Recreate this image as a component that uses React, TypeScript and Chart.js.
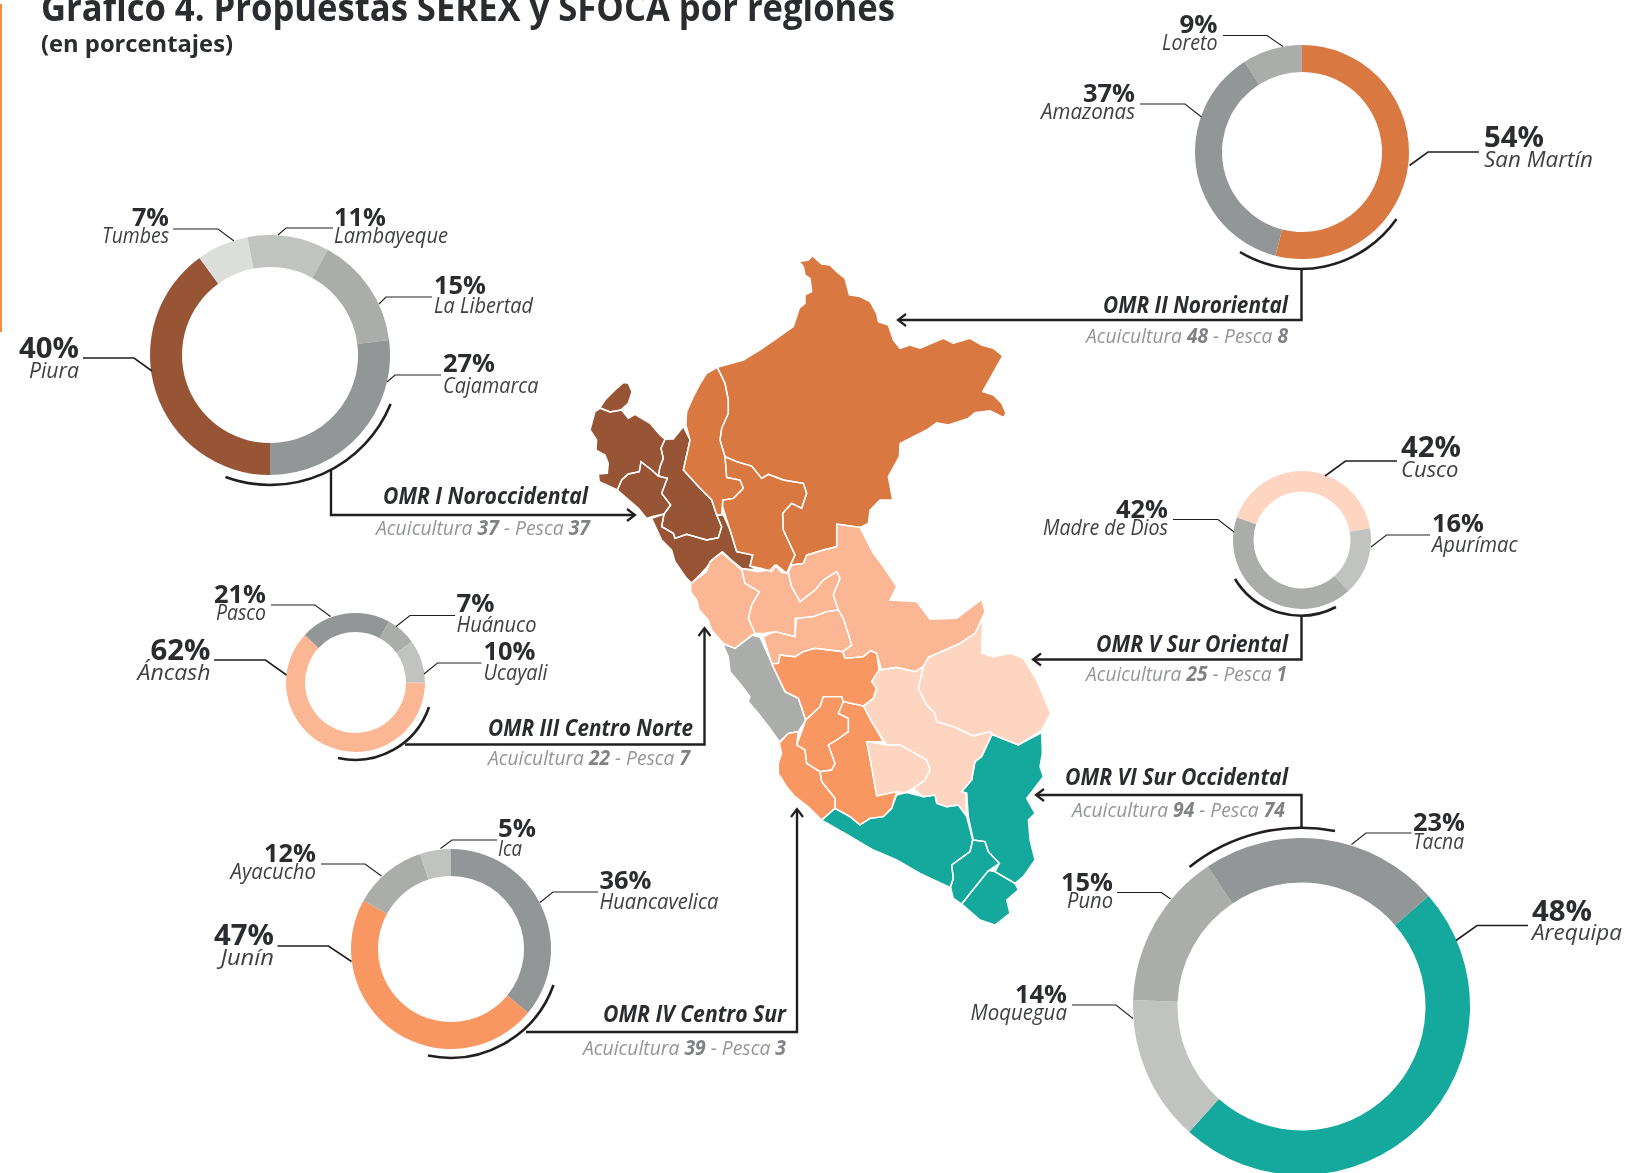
import React, { useEffect, useRef } from "react";
import { Chart, registerables } from "chart.js";

Chart.register(...registerables);

// ---------- data ----------
const omr1Names = ["Piura", "Tumbes", "Lambayeque", "La Libertad", "Cajamarca"];
const omr1Values = [40, 7, 11, 15, 27];
const omr2Names = ["San Martín", "Amazonas", "Loreto"];
const omr2Values = [54, 37, 9];
const omr3Names = ["Áncash", "Pasco", "Huánuco", "Ucayali"];
const omr3Values = [62, 21, 7, 10];
const omr4Names = ["Huancavelica", "Junín", "Ayacucho", "Ica"];
const omr4Values = [36, 47, 12, 5];
const omr5Names = ["Cusco", "Apurímac", "Madre de Dios"];
const omr5Values = [42, 16, 42];
const omr6Names = ["Arequipa", "Moquegua", "Puno", "Tacna"];
const omr6Values = [48, 14, 15, 23];

const omrTitles = ["OMR I Noroccidental", "OMR II Nororiental", "OMR III Centro Norte", "OMR IV Centro Sur", "OMR V Sur Oriental", "OMR VI Sur Occidental"];
const aquaculture = [37, 48, 22, 39, 25, 94];
const fishing = [37, 8, 7, 3, 1, 74];

// ---------- colours ----------
const BROWN = "#975535", ORANGE = "#D97941", PEACH = "#FBB694", CORAL = "#F99763", PALE = "#FDD5C0", TEAL = "#14A99C";
const G1 = "#939696", G2 = "#ABADAB", G3 = "#C1C3C1", G4 = "#DCDEDC";
const INK = "#2B2C2F", NAME_INK = "#3F4042", LINE = "#231F20";

// ---------- donut layout ----------
const donuts = [
  { names: omr1Names, values: omr1Values, colors: [BROWN, G4, G3, G2, G1], cx: 270, cy: 355, r: 120, inner: 88, rotation: 180 },
  { names: omr2Names, values: omr2Values, colors: [ORANGE, G1, G2], cx: 1302, cy: 152, r: 107, inner: 80, rotation: 0 },
  { names: omr3Names, values: omr3Values, colors: [PEACH, G1, G2, G3], cx: 355, cy: 682.5, r: 69.5, inner: 50.5, rotation: 90 },
  { names: omr4Names, values: omr4Values, colors: [G1, CORAL, G2, G3], cx: 450.5, cy: 948.5, r: 100, inner: 73, rotation: 0 },
  { names: omr5Names, values: omr5Values, colors: [PALE, G3, G2], cx: 1301.5, cy: 540, r: 69, inner: 48.5, rotation: 289 },
  { names: omr6Names, values: omr6Values, colors: [TEAL, G3, G2, G1], cx: 1301.5, cy: 1006, r: 168.5, inner: 124, rotation: 49 },
];

// ---------- label layout: name, anchor, x, pct baseline, name baseline, pct width, name width, big, leader ----------
type L = [string, "start" | "end", number, number, number, number, number, number, number[]];
const labels: [number, L[]][] = [
  [0, [
    ["Tumbes", "end", 169, 226, 243, 37, 67, 25, [173, 229, 218, 229, 234, 241]],
    ["Lambayeque", "start", 334, 226, 243, 52, 114, 25, [333, 228, 286, 228, 278, 235]],
    ["La Libertad", "start", 434, 293.5, 313, 52, 99, 25, [432, 297, 386, 297, 379, 304]],
    ["Cajamarca", "start", 443, 372, 393, 52, 95.5, 25, [441, 375, 395, 375, 387, 382]],
    ["Piura", "end", 79, 358, 378, 60, 50, 29, [83, 358, 134, 358, 152, 371]],
  ]],
  [1, [
    ["Loreto", "end", 1217.5, 33, 50, 38, 55.5, 25, [1223, 35.5, 1267, 35.5, 1283, 46.5]],
    ["Amazonas", "end", 1135, 101.5, 119, 52, 94, 25, [1140, 104, 1185, 104, 1201.5, 117]],
    ["San Martín", "start", 1484, 147, 166.5, 60, 109, 29, [1479, 152, 1428, 152, 1409.5, 165.5]],
  ]],
  [2, [
    ["Pasco", "end", 266, 602.5, 620, 52, 50, 25, [271, 605, 315, 605, 330.5, 616.5]],
    ["Huánuco", "start", 456.5, 611.5, 632, 38, 80, 25, [455, 615.5, 410, 615.5, 396, 626.5]],
    ["Ucayali", "start", 483.5, 660, 680, 52, 64, 25, [481.5, 663, 437.5, 663, 424, 674]],
    ["Áncash", "end", 210.5, 660, 680, 60, 73, 29, [214, 660, 265.5, 660, 286.5, 675]],
  ]],
  [3, [
    ["Ica", "start", 498, 837, 856, 38, 24, 25, [497, 840, 452, 840, 440.5, 848.5]],
    ["Ayacucho", "end", 316, 861.5, 879, 52, 85.5, 25, [321, 864, 365, 864, 381.5, 876]],
    ["Huancavelica", "start", 599.5, 889, 909, 52, 119, 25, [598, 892, 553, 892, 540, 902.5]],
    ["Junín", "end", 274, 945, 965, 60, 53.5, 29, [277.5, 946, 328.5, 946, 351.5, 961.5]],
  ]],
  [4, [
    ["Cusco", "start", 1401, 457, 476.5, 60, 57.5, 29, [1397, 461, 1345.5, 461, 1325, 476]],
    ["Apurímac", "start", 1432, 532, 551.5, 52, 85.5, 25, [1430, 535, 1386.5, 535, 1371, 547]],
    ["Madre de Dios", "end", 1168, 517.5, 535, 52, 125, 25, [1173, 519.5, 1218, 519.5, 1234, 532]],
  ]],
  [5, [
    ["Tacna", "start", 1413, 830.5, 849, 52, 51, 25, [1411.5, 833, 1366, 833, 1351.5, 844.5]],
    ["Arequipa", "start", 1532, 920.5, 940, 60, 90, 29, [1528, 925.5, 1477, 925.5, 1456, 940.5]],
    ["Puno", "end", 1113, 891, 907.5, 52, 46, 25, [1117, 892.5, 1161.5, 892.5, 1170.5, 899]],
    ["Moquegua", "end", 1067, 1003, 1020, 52, 96.5, 25, [1072, 1005, 1116, 1005, 1133, 1018.5]],
  ]],
];

// region captions: right edge, title baseline, title width, sub baseline, sub right, sub width
const captions = [
  [588, 504, 205, 535, 590, 214],
  [1288, 313, 185, 343, 1288, 202],
  [693, 736, 205, 765, 690, 202],
  [786, 1022, 183, 1055, 786, 203],
  [1288, 652, 192, 681, 1287, 201],
  [1288, 785, 223, 817, 1285, 213],
];

// connectors and brackets
const brackets = [
  { arc: "M390.6 404 A130 130 0 0 1 225.5 477", path: "M331 470 V515 H634", head: "M627 509 L635 515 L627 521" },
  { arc: "M1396.5 219 A117 117 0 0 1 1240 252", path: "M1301.5 270 V320 H900", head: "M906 314 L898 320 L906 326" },
  { arc: "M429 707 A78 78 0 0 1 338 758", path: "M405 744.5 H704.5 V630", head: "M698.5 636 L704.5 628 L710.5 636" },
  { arc: "M553.5 985 A109.5 109.5 0 0 1 428 1055.5", path: "M526 1032 H797 V811", head: "M791 817 L797 809 L803 817" },
  { arc: "M1235 579 A77 77 0 0 0 1336 607", path: "M1301.5 617 V659.5 H1035", head: "M1041 653.5 L1033 659.5 L1041 665.5" },
  { arc: "M1189.5 867 A178.5 178.5 0 0 1 1335 831", path: "M1301.5 827 V795 H1038", head: "M1044 789 L1036 795 L1044 801" },
];

// ---------- map outlines, traced at 3x: north in crop units, south in crop units offset by (300, 930) ----------
type P = [number, number];
const north: [string, P[]][] = [
  [BROWN, [[120,503],[135,480],[165,450],[190,428],[205,430],[216,455],[205,490],[182,510],[150,516]]],
  [BROWN, [[120,505],[105,515],[97,545],[90,570],[110,600],[108,630],[135,645],[145,670],[142,700],[115,702],[118,725],[172,750],[185,720],[205,702],[238,695],[243,665],[275,690],[295,708],[300,680],[310,655],[303,625],[315,598],[300,585],[270,550],[225,523],[205,535],[185,510],[150,516]]],
  [BROWN, [[172,750],[185,720],[205,702],[238,695],[243,665],[275,690],[295,708],[322,715],[305,760],[332,795],[312,822],[275,830],[260,835],[235,805]]],
  [BROWN, [[275,835],[312,822],[305,860],[340,880],[345,895],[380,883],[440,900],[475,893],[485,860],[470,825],[490,825],[510,870],[530,935],[578,945],[570,978],[590,990],[545,985],[520,965],[487,935],[455,960],[438,985],[395,1030],[380,1015],[345,965],[335,930],[305,900]]],
  [BROWN, [[315,598],[340,597],[370,560],[390,600],[370,690],[420,745],[455,780],[470,825],[485,860],[475,893],[440,900],[380,883],[345,895],[340,880],[305,860],[312,822],[332,795],[305,760],[322,715],[295,708],[300,680],[310,655],[303,625]]],
  [ORANGE, [[472,382],[440,400],[420,432],[400,470],[380,515],[378,555],[390,600],[370,690],[420,745],[455,780],[470,825],[485,825],[488,780],[520,775],[550,745],[540,720],[500,712],[495,650],[480,600],[485,565],[505,520],[505,480],[495,430]]],
  [ORANGE, [[495,650],[530,665],[575,678],[605,715],[625,703],[670,720],[730,730],[740,760],[725,805],[695,790],[668,820],[670,870],[705,945],[680,1000],[650,975],[635,995],[605,985],[570,978],[578,945],[530,935],[510,870],[488,800],[488,780],[520,775],[550,745],[540,720],[500,712]]],
  [ORANGE, [[472,382],[550,360],[600,330],[650,295],[700,260],[718,205],[735,190],[735,165],[755,155],[750,115],[735,105],[730,80],[718,65],[745,60],[757,47],[785,72],[810,75],[830,95],[855,115],[868,165],[900,170],[930,185],[950,220],[955,245],[985,255],[1000,300],[1020,325],[1050,315],[1080,325],[1150,295],[1180,310],[1230,295],[1265,315],[1300,325],[1328,348],[1268,455],[1300,465],[1325,490],[1338,520],[1330,532],[1290,512],[1245,518],[1225,535],[1165,555],[1130,548],[1100,570],[1060,590],[1020,610],[1018,650],[985,710],[998,780],[960,780],[930,810],[925,850],[900,862],[830,852],[830,920],[790,930],[740,945],[730,970],[695,975],[680,1000],[705,945],[670,870],[668,820],[695,790],[725,805],[740,760],[730,730],[670,720],[625,703],[605,715],[575,678],[530,665],[495,650],[480,600],[485,565],[505,520],[505,480],[495,430]]],
];
const south: [string, P[]][] = [
  [PEACH, [[92,100],[140,65],[150,35],[185,8],[245,60],[255,100],[298,125],[275,165],[265,205],[285,250],[225,295],[190,280],[155,240],[145,210],[118,180],[110,150],[92,125]]],
  [PEACH, [[245,55],[290,65],[330,60],[345,45],[365,68],[385,70],[395,110],[420,155],[465,120],[490,90],[530,65],[540,85],[520,135],[535,180],[500,185],[460,200],[410,205],[405,260],[345,245],[310,250],[285,250],[265,205],[275,165],[298,125],[255,100]]],
  [PEACH, [[385,68],[395,45],[430,40],[440,15],[490,0],[530,-10],[530,-78],[600,-68],[640,10],[670,50],[710,110],[690,150],[770,155],[810,208],[890,205],[965,148],[975,185],[945,250],[900,280],[805,322],[790,350],[765,365],[710,352],[665,360],[650,310],[632,302],[610,320],[555,325],[548,305],[575,285],[550,205],[535,180],[520,135],[540,85],[530,65],[490,90],[465,120],[420,155],[395,110]]],
  [PEACH, [[405,205],[460,200],[500,185],[535,180],[550,205],[575,285],[548,305],[465,295],[430,305],[405,320],[360,315],[355,340],[335,340],[310,260],[345,245],[405,260]]],
  [G2, [[188,282],[225,295],[275,255],[300,262],[335,340],[375,425],[415,445],[437,510],[415,545],[385,550],[358,575],[330,535],[295,490],[265,455],[270,440],[240,400],[210,365],[205,320]]],
  [CORAL, [[335,342],[355,340],[360,315],[405,320],[430,305],[465,295],[548,305],[555,325],[610,320],[632,302],[650,310],[657,360],[635,395],[650,415],[640,445],[610,468],[550,455],[545,440],[490,440],[480,470],[437,510],[415,445],[375,425]]],
  [CORAL, [[490,440],[545,440],[550,455],[535,490],[565,505],[565,545],[530,570],[505,585],[525,640],[515,660],[480,665],[440,640],[435,600],[410,585],[425,545],[437,510],[480,470]]],
  [CORAL, [[358,580],[385,550],[415,545],[410,585],[435,600],[440,640],[480,665],[485,695],[525,745],[525,775],[485,810],[445,770],[405,740],[380,710],[355,670],[355,640],[365,610]]],
  [CORAL, [[550,455],[610,468],[635,515],[670,575],[620,575],[630,625],[650,738],[710,725],[695,775],[670,800],[630,805],[600,825],[570,800],[525,775],[525,745],[485,695],[480,665],[515,660],[525,640],[505,585],[530,570],[565,545],[565,505],[535,490]]],
  [PALE, [[620,575],[680,585],[720,585],[800,630],[810,660],[795,690],[760,715],[735,728],[710,725],[650,738],[630,625]]],
  [PALE, [[657,360],[710,352],[765,365],[790,350],[775,415],[800,465],[825,490],[830,515],[880,530],[940,558],[990,545],[995,555],[965,620],[945,635],[935,690],[905,725],[920,730],[918,795],[895,765],[860,770],[830,760],[825,735],[790,740],[760,715],[795,690],[810,660],[800,630],[720,585],[680,585],[635,515],[610,468],[640,445],[650,415],[635,395]]],
  [PALE, [[805,322],[900,280],[945,250],[968,205],[965,310],[1000,320],[1050,310],[1090,325],[1130,390],[1172,490],[1145,540],[1075,585],[1000,555],[990,545],[940,558],[880,530],[830,515],[825,490],[800,465],[775,415],[790,350]]],
  [TEAL, [[1000,555],[1075,585],[1145,548],[1147,610],[1140,650],[1150,680],[1100,745],[1125,790],[1105,810],[1110,870],[1125,930],[1090,980],[1065,1000],[1005,965],[1018,940],[985,905],[975,875],[940,870],[925,800],[920,730],[905,725],[935,690],[945,635],[965,620],[995,555]]],
  [TEAL, [[485,810],[525,775],[570,800],[600,825],[630,805],[670,800],[695,775],[710,735],[740,728],[790,740],[825,735],[830,760],[860,770],[895,765],[920,800],[938,870],[930,905],[875,945],[880,985],[870,1012],[780,970],[710,930],[640,900],[555,850]]],
  [TEAL, [[938,870],[975,875],[985,905],[1018,940],[985,962],[905,1062],[880,1045],[872,1012],[880,985],[875,945],[930,905]]],
  [TEAL, [[985,962],[1005,965],[1065,1000],[1075,1020],[1040,1050],[1050,1090],[1005,1125],[960,1110],[905,1062]]],
];

const WIDTH = 1628, HEIGHT = 1173;
const FONT = "'Open Sans', 'Noto Sans', sans-serif";

const mapFill = {
  id: "mapFill",
  beforeDatasetsDraw(chart: any) {
    const { ctx } = chart;
    chart.data.datasets.forEach((ds: any, i: number) => {
      const pts = chart.getDatasetMeta(i).data;
      ctx.save();
      ctx.beginPath();
      pts.forEach((p: any, k: number) => (k ? ctx.lineTo(p.x, p.y) : ctx.moveTo(p.x, p.y)));
      ctx.closePath();
      ctx.fillStyle = ds.backgroundColor;
      ctx.fill();
      ctx.restore();
    });
  },
};

function Donut({ d }: { d: (typeof donuts)[number] }) {
  const ref = useRef<HTMLCanvasElement>(null);
  useEffect(() => {
    const chart = new Chart(ref.current!, {
      type: "doughnut",
      data: { labels: d.names, datasets: [{ data: d.values, backgroundColor: d.colors, borderWidth: 0 }] },
      options: {
        animation: false,
        responsive: false,
        devicePixelRatio: 1,
        rotation: d.rotation,
        cutout: d.inner,
        layout: { padding: 0 },
        events: [],
        plugins: { legend: { display: false }, tooltip: { enabled: false } },
      } as any,
    });
    return () => chart.destroy();
  }, []);
  const s = d.r * 2;
  return <canvas ref={ref} width={s} height={s} style={{ position: "absolute", left: d.cx - d.r, top: d.cy - d.r, width: s, height: s }} />;
}

function PeruMap() {
  const ref = useRef<HTMLCanvasElement>(null);
  useEffect(() => {
    const toDs = ([color, pts]: [string, P[]], dx: number, dy: number) => ({
      data: [...pts, pts[0]].map(([x, y]) => ({ x: x + dx, y: y + dy })),
      backgroundColor: color,
      borderColor: "#FFFFFF",
      borderWidth: 1.4,
      pointRadius: 0,
      showLine: true,
      tension: 0,
      clip: false,
    });
    const chart = new Chart(ref.current!, {
      type: "scatter",
      data: { datasets: [...north.map((r) => toDs(r, 0, 0)), ...south.map((r) => toDs(r, 300, 930))] },
      options: {
        animation: false,
        responsive: false,
        devicePixelRatio: 1,
        events: [],
        layout: { padding: 0 },
        scales: {
          x: { type: "linear", display: false, min: -1680, max: 3204 },
          y: { type: "linear", display: false, min: -720, max: 2799, reverse: true },
        },
        plugins: { legend: { display: false }, tooltip: { enabled: false } },
      } as any,
      plugins: [mapFill],
    });
    return () => chart.destroy();
  }, []);
  return <canvas ref={ref} width={WIDTH} height={HEIGHT} style={{ position: "absolute", left: 0, top: 0, width: WIDTH, height: HEIGHT }} />;
}

function T(props: any) {
  const { w, children, ...rest } = props;
  return (
    <text fontFamily={FONT} textLength={w} lengthAdjust="spacingAndGlyphs" {...rest}>
      {children}
    </text>
  );
}

export default function App() {
  return (
    <div style={{ position: "fixed", left: 0, top: 0, width: WIDTH, height: HEIGHT, overflow: "hidden", background: "#fff" }}>
      <PeruMap />
      {donuts.map((d, i) => (
        <Donut key={i} d={d} />
      ))}
      <svg width={WIDTH} height={HEIGHT} style={{ position: "absolute", left: 0, top: 0 }}>
        <rect x={0} y={4} width={2} height={328} fill="#F58A4B" />
        <T x={41} y={21} w={854} fontSize={37} fontWeight={700} fill={INK}>Gráfico 4. Propuestas SEREX y SFOCA por regiones</T>
        <T x={41} y={52} w={192} fontSize={24} fontWeight={700} fill={INK}>(en porcentajes)</T>

        {brackets.map((b, i) => (
          <g key={i} fill="none" stroke={LINE}>
            <path d={b.arc} strokeWidth={2.6} />
            <path d={b.path} strokeWidth={2.4} />
            <path d={b.head} strokeWidth={2.2} />
          </g>
        ))}

        {labels.map(([di, items]) =>
          items.map(([name, anchor, x, by1, by2, w1, w2, size, leader]) => {
            const d = donuts[di];
            const v = d.values[d.names.indexOf(name)];
            return (
              <g key={name}>
                <polyline points={leader.join(" ")} fill="none" stroke={LINE} strokeWidth={size > 25 ? 1.6 : 1.1} />
                <T x={x} y={by1} w={w1} textAnchor={anchor} fontSize={size} fontWeight={700} fill={INK}>{`${v}%`}</T>
                <T x={x} y={by2} w={w2} textAnchor={anchor} fontSize={22} fontStyle="italic" fill={NAME_INK}>{name}</T>
              </g>
            );
          })
        )}

        {captions.map(([rx, by, w, sby, srx, sw], i) => (
          <g key={i}>
            <T x={rx} y={by} w={w} textAnchor="end" fontSize={23} fontWeight={700} fontStyle="italic" fill={INK}>{omrTitles[i]}</T>
            <T x={srx} y={sby} w={sw} textAnchor="end" fontSize={20.5} fontStyle="italic" fill="#939598">
              Acuicultura <tspan fontWeight={700} fill="#808285">{aquaculture[i]}</tspan> - Pesca <tspan fontWeight={700} fill="#808285">{fishing[i]}</tspan>
            </T>
          </g>
        ))}
      </svg>
    </div>
  );
}
